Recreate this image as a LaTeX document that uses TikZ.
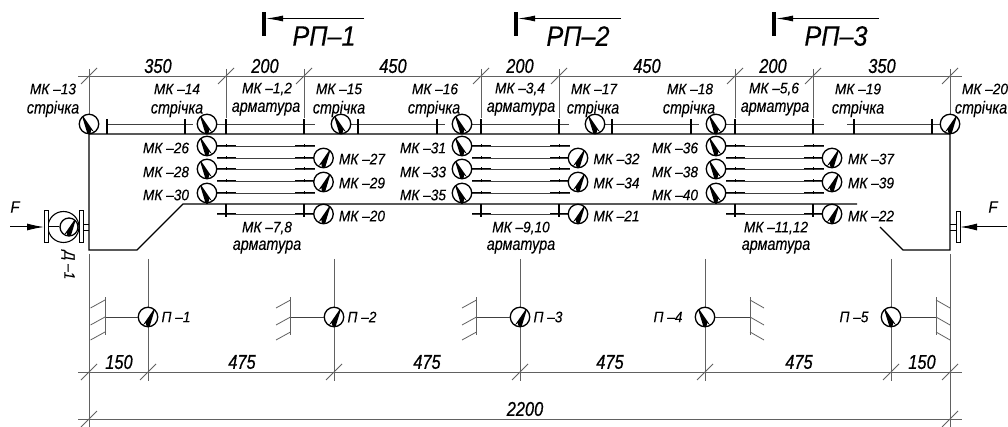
\documentclass[tikz,border=0pt]{standalone}
\usepackage{fontspec}
\newfontfamily\gf[FakeStretch=0.9,FakeBold=0.25]{Liberation Sans}
\newfontfamily\gfw[FakeStretch=0.82,FakeBold=0.2]{Liberation Sans}
\newfontfamily\gfb[FakeStretch=0.82,FakeBold=0.6]{Liberation Sans}
\usetikzlibrary{arrows.meta}
\tikzset{
 sensbase/.style={circle,draw=black,line width=1.3pt,minimum size=19.5pt,inner sep=0pt,fill=white},
 sensA/.style={sensbase,path picture={\fill[black,shift={(path picture bounding box.center)}] (-7,-8)--(-6,-8)--(5,8)--(2,6)--(1.5,10)--(-1.5,10)--cycle;}},
 sensB/.style={sensbase,path picture={\fill[black,shift={(path picture bounding box.center)}] (7,-8)--(6,-8)--(-5,8)--(-2,6)--(-1.5,10)--(1.5,10)--cycle;}},
 wire/.style={line width=0.9pt,black!75},
 wirend/.style={line width=1pt,black},
 main/.style={line width=1.25pt,black},
 dim/.style={line width=0.8pt,black!62},
 barthick/.style={line width=1.7pt,black},
 tag/.style={inner sep=0pt,font=\gf\itshape\fontsize{15.2}{16}\selectfont},
 word/.style={inner sep=0pt,font=\gfw\itshape\fontsize{17.5}{19}\selectfont},
 num/.style={inner sep=0pt,font=\gfb\itshape\fontsize{20}{22}\selectfont},
 sect/.style={inner sep=0pt,font=\gf\itshape\fontsize{28}{30}\selectfont},
 sectarrow/.style={line width=0.9pt,black,-{Latex[length=17pt,width=6pt]}},
 flange/.style={draw=black,line width=1pt,fill=white},
}
\begin{document}
\begin{tikzpicture}[x=1pt,y=-1pt]
\useasboundingbox (0,0) rectangle (1008,427);
\fill[white] (0,0) rectangle (1008,427);
% section markers
\foreach \bx/\ex/\tx/\t in {264/364/324/РП–1,516/621/578/РП–2,774/879/836/РП–3}{
  \fill[black] (\bx-2,12) rectangle (\bx+2,36);
  \draw[sectarrow] (\ex,18.5) -- (\bx+2,18.5);
  \node[sect] at (\tx,36) {\t};
}
% top dimension
\coordinate (td1) at (78,76); \coordinate (td2) at (962,76);
\draw[dim] (td1) -- (td2);
\foreach \x in {89,226,304,481,559,735,813,950}{
  \draw[dim] (\x-8,84) -- (\x+8,68);
}
\foreach \x in {226,304,481,559,735,813}{\draw[dim] (\x,69) -- (\x,118);}
\draw[dim] (89,69) -- (89,115);
\draw[dim] (950,69) -- (950,115);
\foreach \x/\t in {158/350,265/200,393/450,520/200,647/450,773/200,882/350}{\node[num] at (\x,66) {\t};}
% bottom dimensions
\draw[dim] (78,372) -- (962,372);
\draw[dim] (78,419) -- (962,419);
\foreach \x in {89,148,334,520,705,891,950}{\draw[dim] (\x-8,380) -- (\x+8,364);}
\foreach \x in {89,950}{\draw[dim] (\x-8,427) -- (\x+8,411); \draw[dim] (\x,254) -- (\x,427);}
\foreach \x in {148,334,520,705,891}{\draw[dim] (\x,259) -- (\x,381);}
\foreach \x/\t in {119/150,242/475,427/475,610/475,799/475,922/150}{\node[num] at (\x,362) {\t};}
\node[num] at (525,409) {2200};
% beam
\draw[main] (89,134) -- (950,134) -- (950,250) -- (903,250) -- (880,227);
\draw[main] (89,134) -- (89,250) -- (137,250) -- (183,204) -- (857,204);
% top wires
\foreach \a/\b/\pa/\pb in {107/193/107/185,217/315/226/304,350/445/358/437,471/569/481/559,605/699/612/691,725/824/735/813,847/940/854/932}{
  \draw[wire] (\a,124) -- (\b,124);
  \draw[barthick] (\pa,119) -- (\pa,134);
  \draw[barthick] (\pb,119) -- (\pb,134);
}
% inner wires
\foreach \d in {0,255,509}{
  \foreach \y in {146,158,169,181,193}{
    \draw[wire] (217+\d,\y) -- (315+\d,\y);
    \draw[wirend] (217+\d,\y) -- (236+\d,\y) (295+\d,\y) -- (315+\d,\y);
    \draw[line width=1pt] (226+\d,\y-1.5) -- (226+\d,\y+1.5);
    \draw[line width=1pt] (304+\d,\y-1.5) -- (304+\d,\y+1.5);
  }
  \draw[wire] (217+\d,214) -- (315+\d,214);
  \draw[wirend] (217+\d,214) -- (236+\d,214) (295+\d,214) -- (315+\d,214);
  \draw[barthick] (226+\d,204) -- (226+\d,217);
  \draw[barthick] (304+\d,204) -- (304+\d,217);
  \draw[line width=1.1pt] (207+\d,200) -- (207+\d,204);
}
% strain gauges
\node[sensA] (mk13) at (89,124) {};
\node[sensA] (mk14) at (207,124) {};
\node[sensA] (mk15) at (341,124) {};
\node[sensA] (mk16) at (462,124) {};
\node[sensA] (mk17) at (595,124) {};
\node[sensA] (mk18) at (716,124) {};
\node[sensB] (mk20t) at (950,124) {};
\foreach \x/\a/\b/\c in {207/26/28/30,462/31/33/35,716/36/38/40}{
  \node[sensA] (mk\a) at (\x,146) {};
  \node[sensA] (mk\b) at (\x,169) {};
  \node[sensA] (mk\c) at (\x,193) {};
}
\foreach \x/\a/\b/\c in {323.5/27/29/20,578/32/34/21,832/37/39/22}{
  \node[sensB] (mk\a) at (\x,158) {};
  \node[sensB] (mk\b) at (\x,182) {};
  \node[sensB] (mk\c) at (\x,214) {};
}
% top labels
\foreach \x/\t in {53/13,177/14,339/15,435/16,594/17,690/18,858/19,985/20}{\node[tag] at (\x,89) {МК –\t};}
\foreach \x in {53,177,339,434,593,689,858,981}{\node[word] at (\x,109) {стрічка};}
\foreach \x/\t in {267/{1,2},520/{3,4},774/{5,6}}{\node[tag] at (\x,89) {МК –\t};}
\foreach \x in {266,521,775}{\node[word] at (\x,109) {арматура};}
% side labels
\foreach \x/\a/\b/\c in {166/26/28/30,423/31/33/35,675/36/38/40}{
  \node[tag] at (\x,148) {МК –\a};
  \node[tag] at (\x,172) {МК –\b};
  \node[tag] at (\x,195) {МК –\c};
}
\foreach \x/\a/\b/\c in {362/27/29/20,616.5/32/34/21,871/37/39/22}{
  \node[tag] at (\x,159) {МК –\a};
  \node[tag] at (\x,183) {МК –\b};
  \node[tag] at (\x,216) {МК –\c};
}
\foreach \x/\t in {267/{7,8},521/{9,10},776/{11,12}}{
  \node[tag] at (\x,228) {МК –\t};
  \node[word] at (\x,247) {арматура};
}
% motor
\node[circle,draw=black,line width=1.1pt,minimum size=31pt,inner sep=0pt,fill=white] (motor) at (63.5,227) {};
\node[sensB,minimum size=18pt] (d1) at (69,227) {};
\draw[flange] (44,211) rectangle (48,243);
\draw[flange] (79,211) rectangle (83,243);
\draw[line width=1pt] (48,227) -- (d1.west);
\draw[line width=0.9pt] (83,224) -- (89,224) (83,230) -- (89,230);
\node[tag,rotate=-90] at (68,265) {Д –1};
\draw[line width=1pt,-{Latex[length=17pt,width=7pt]}] (10,227) -- (44,227);
\node[tag,font=\gf\itshape\fontsize{16.5}{18}\selectfont] at (15,207) {F};
% right force
\draw[flange] (956,212) rectangle (960,243);
\draw[line width=0.9pt] (950,224) -- (956,224) (950,230) -- (956,230);
\draw[line width=1pt,-{Latex[length=17pt,width=7pt]}] (1007,227) -- (960,227);
\node[tag,font=\gf\itshape\fontsize{16.5}{18}\selectfont] at (993,207) {F};
% supports
\foreach \x/\n/\wx/\s/\lx in {148/1/105/-1/176,334/2/290.5/-1/362,520/3/476.5/-1/548}{
  \node[sensB] (p\n) at (\x,317) {};
  \node[tag] at (\lx,317) {П –\n};
  \draw[wire] (p\n.west) -- (\wx,317);
  \draw[dim] (\wx,297) -- (\wx,335);
  \foreach \y in {300,317,332}{\draw[dim] (\wx,\y) -- (\wx-14.5,\y+8);}
}
\foreach \x/\n/\wx/\lx in {705/4/750/668,891/5/936/854}{
  \node[sensA] (p\n) at (\x,317) {};
  \node[tag] at (\lx,317) {П –\n};
  \draw[wire] (p\n.east) -- (\wx,317);
  \draw[dim] (\wx,297) -- (\wx,335);
  \foreach \y in {300,317,332}{\draw[dim] (\wx,\y) -- (\wx+14,\y+8);}
}
\end{tikzpicture}
\end{document}
